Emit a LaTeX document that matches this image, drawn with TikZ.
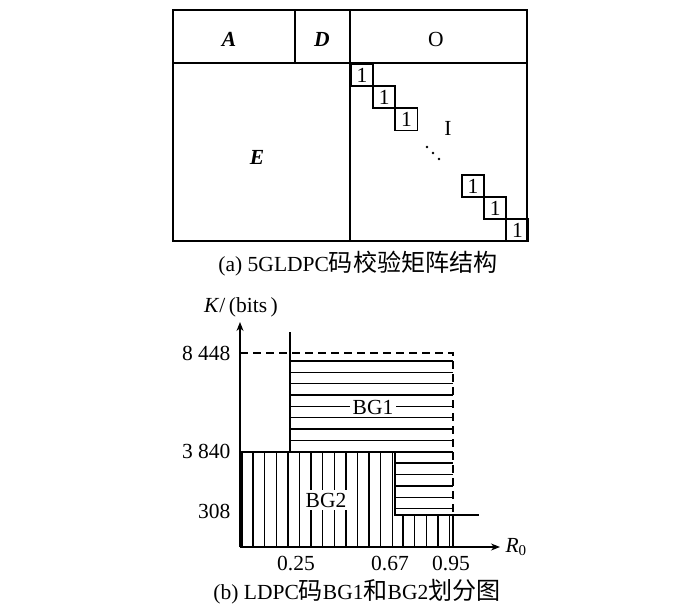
\documentclass[tikz,border=0pt]{standalone}
\usepackage{fontspec}
\setmainfont{Liberation Serif}
\newfontfamily\cjk[Scale = 1.12]{Noto Sans CJK SC}
\usetikzlibrary{arrows.meta}
\tikzset{
	frame/.style = {line width = 1.8pt},
	hatch/.style = {line width = 1.4pt},
	axis/.style = {line width = 1.1pt, -{Stealth[length = 9pt, width = 7pt]}},
	unit/.style = {frame, draw, minimum size = 22.2pt, inner sep = 0pt, anchor = north west},
	region/.style = {fill = white, inner sep = 3pt}
}
\begin{document}
\begin{tikzpicture} [x = 1pt, y = -1pt, font = \fontsize{21.5}{25}\selectfont]
	\useasboundingbox (0,0) rectangle (700,612);
	\draw [frame] (173,10) rectangle (527,241);
	\draw [frame] (173,63) -- (527,63);
	\draw [frame] (295,10) -- (295,63);
	\draw [frame] (350,10) -- (350,241);
	\node (A) at (229,39) {\textbf{\textit{A}}};
	\node (D) at (322,39) {\textbf{\textit{D}}};
	\node (O) at (436,39) {O};
	\node (E) at (257,157) {\textbf{\textit{E}}};
	\node (I) at (448,128) {I};
	\foreach \k in {0,1,2,5,6,7}
		\node [unit] (u\k) at ({350+22.2*\k},{63+22.2*\k}) {1};
	\foreach \k in {0,1,2}
		\fill ({427+6*\k},{147+6*\k}) circle (1.4pt);
	\node (capa) at (358,264) {(a) 5GLDPC{\cjk 码校验矩阵结构}};
	\coordinate (org) at (240,547);
	\coordinate (xend) at (500,547);
	\coordinate (yend) at (240,322);
	\foreach \y in {0,...,7}
		\draw [hatch] (290,{361+11.35*\y}) -- (453,{361+11.35*\y});
	\draw [hatch] (395,452) -- (453,452);
	\foreach \y in {9,...,13}
		\draw [hatch] (395,{361+11.35*\y}) -- (453,{361+11.35*\y});
	\draw [hatch] (242,452) -- (242,547);
	\foreach \x in {0,...,12}
		\draw [hatch] ({253+11.6*\x},452) -- ({253+11.6*\x},547);
	\foreach \x in {0,...,4}
		\draw [hatch] ({403+11.6*\x},515) -- ({403+11.6*\x},547);
	\draw [hatch] (453,515) -- (453,547);
	\draw [hatch, dash pattern = on 8pt off 5pt] (240,353) -- (453,353) -- (453,515);
	\draw [frame] (240,452) -- (395,452) -- (395,515) -- (479,515);
	\draw [frame] (290,332) -- (290,452);
	\draw [axis] (org) -- (xend);
	\draw [axis] (org) -- (yend);
	\node [region] (bg1) at (373,407) {BG1};
	\node [region] (bg2) at (326,500) {BG2};
	\node (ylab) at (241,307) {\textit{K}/\,(bits\,)};
	\node [anchor = west] (xlab) at (502,547) {\textit{R}\textsubscript{0}};
	\node [anchor = east] (t8448) at (234,353) {8 448};
	\node [anchor = east] (t3840) at (234,451) {3 840};
	\node [anchor = east] (t308) at (234,511) {308};
	\node (t025) at (296,563) {0.25};
	\node (t067) at (390,563) {0.67};
	\node (t095) at (451,563) {0.95};
	\node (capb) at (357,592) {(b) LDPC{\cjk 码}BG1{\cjk 和}BG2{\cjk 划分图}};
\end{tikzpicture}
\end{document}
